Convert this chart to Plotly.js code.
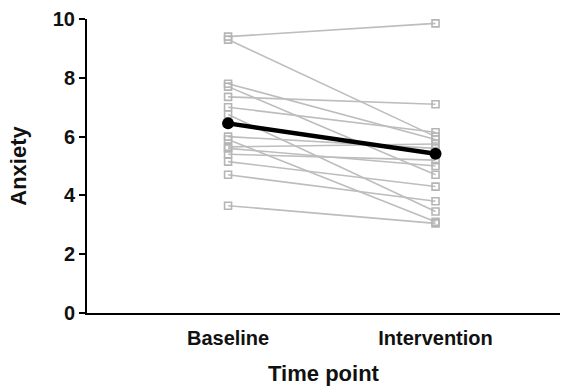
<!DOCTYPE html>
<html><head><meta charset="utf-8">
<script src="https://cdn.plot.ly/plotly-3.0.1.min.js"></script>
<style>html,body{margin:0;padding:0;background:#fff}#c{width:578px;height:386px}</style>
</head><body><div id="c"></div>
<script>
const timePoints = ["Baseline", "Intervention"];
const baseline = [9.4, 9.3, 7.8, 7.7, 7.35, 7.0, 6.75, 6.0, 5.9, 5.65, 5.4, 5.15, 4.7, 3.65, 5.6];
const intervention = [9.85, 6.0, 5.9, 4.7, 7.1, 6.15, 3.45, 5.6, 3.1, 5.75, 5.2, 4.3, 3.8, 3.05, 5.0];
const meanValues = [6.45, 5.42];
const yTicks = [0, 2, 4, 6, 8, 10];

const traces = [];
for (let i = 0; i < baseline.length; i++) {
  traces.push({
    x: timePoints, y: [baseline[i], intervention[i]],
    type: "scatter", mode: "lines+markers", showlegend: false,
    line: {color: "#bdbdbd", width: 1.6},
    marker: {symbol: "square-open", size: 7, color: "#b5b5b5", line: {width: 1.6}}
  });
}
traces.push({
  x: timePoints, y: meanValues, type: "scatter", mode: "lines+markers", showlegend: false,
  line: {color: "#000", width: 4.5},
  marker: {symbol: "circle", size: 12, color: "#000"}
});

const font = {family: "Liberation Sans, Arial, sans-serif", color: "#111"};
Plotly.newPlot("c", traces, {
  width: 578, height: 386,
  margin: {l: 87, r: 18, t: 19, b: 73},
  paper_bgcolor: "#fff", plot_bgcolor: "#fff",
  xaxis: {
    type: "category", range: [-0.68, 1.6],
    showline: true, linecolor: "#000", linewidth: 2, ticks: "", showgrid: false, zeroline: false,
    ticklabelstandoff: 6,
    tickfont: Object.assign({size: 20, weight: "bold"}, font),
    title: {text: "Time point", font: Object.assign({size: 22, weight: "bold"}, font), standoff: 20}
  },
  yaxis: {
    range: [0, 10], tickvals: yTicks,
    showline: true, linecolor: "#000", linewidth: 2, ticks: "outside", ticklen: 6, tickwidth: 2, tickcolor: "#000",
    showgrid: false, zeroline: false,
    tickfont: Object.assign({size: 20, weight: "bold"}, font),
    title: {text: "Anxiety", font: Object.assign({size: 22, weight: "bold"}, font), standoff: 20}
  }
}, {displayModeBar: false, staticPlot: true});
</script></body></html>
